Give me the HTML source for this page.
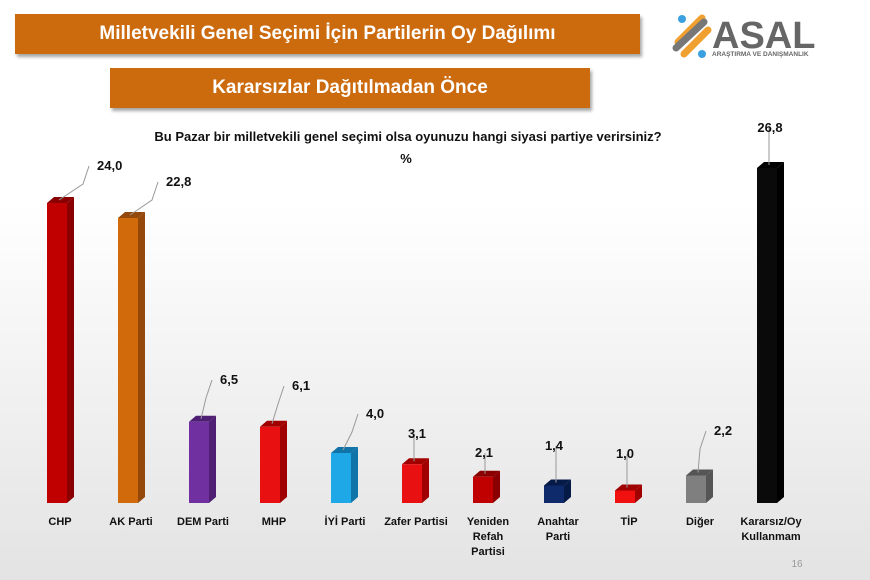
<!DOCTYPE html>
<html><head><meta charset="utf-8"><style>
body{margin:0;width:870px;height:580px;overflow:hidden;background:linear-gradient(#fff 0%,#fff 35%,#e3e3e3 100%);font-family:"Liberation Sans","DejaVu Sans",sans-serif;position:relative}
.box{position:absolute;background:#cc6a0e;color:#fff;font-weight:bold;text-align:center;box-shadow:2px 3px 3px rgba(0,0,0,.35)}
</style></head><body>
<div class="box" style="left:15px;top:14px;width:625px;height:40px;line-height:40px;font-size:19px">Milletvekili Genel Seçimi İçin Partilerin Oy Dağılımı</div>
<div class="box" style="left:110px;top:68px;width:480px;height:40px;line-height:40px;font-size:19px">Kararsızlar Dağıtılmadan Önce</div>
<svg width="870" height="580" style="position:absolute;left:0;top:0" font-family="Liberation Sans, DejaVu Sans, sans-serif">
<g transform="translate(672,14)">
<path d="M6,28 L30,4" stroke="#f0a030" stroke-width="7" stroke-linecap="round"/>
<path d="M4,34 L32,8" stroke="#777" stroke-width="7" stroke-linecap="round"/>
<path d="M12,40 L36,16" stroke="#f0a030" stroke-width="7" stroke-linecap="round"/>
<circle cx="10" cy="5" r="4" fill="#3aa0e0"/><circle cx="30" cy="40" r="4" fill="#3aa0e0"/>
<text x="40" y="34" font-size="38" font-weight="bold" fill="#666">ASAL</text>
<text x="40" y="42" font-size="6.5" font-weight="bold" fill="#666">ARAŞTIRMA VE DANIŞMANLIK</text>
</g>
<text x="408" y="141" font-size="13" font-weight="bold" text-anchor="middle" fill="#111">Bu Pazar bir milletvekili genel seçimi olsa oyunuzu hangi siyasi partiye verirsiniz?</text>
<text x="406" y="163" font-size="13" font-weight="bold" text-anchor="middle" fill="#111">%</text>
<g id="bars"></g>
<g font-size="11" font-weight="bold" fill="#111" text-anchor="middle">
<text x="60" y="525">CHP</text><text x="131" y="525">AK Parti</text><text x="203" y="525">DEM Parti</text><text x="274" y="525">MHP</text><text x="345" y="525">İYİ Parti</text><text x="416" y="525">Zafer Partisi</text>
<text x="488" y="525">Yeniden</text><text x="488" y="540">Refah</text><text x="488" y="555">Partisi</text>
<text x="558" y="525">Anahtar</text><text x="558" y="540">Parti</text><text x="629" y="525">TİP</text><text x="700" y="525">Diğer</text>
<text x="771" y="525">Kararsız/Oy</text><text x="771" y="540">Kullanmam</text>
</g>
<text x="797" y="567" font-size="10" fill="#999" text-anchor="middle">16</text>
<g id="lbl"></g>
</svg>
<script>
var d=[[47,24.0,"#c00000","#8a0000",97,170,"24,0"],[118,22.8,"#d06a0a","#94480a",166,186,"22,8"],[189,6.5,"#7030a0","#4e1f73",220,384,"6,5"],[260,6.1,"#e81010","#a00000",292,390,"6,1"],[331,4.0,"#1fa8e8","#1174a8",366,418,"4,0"],[402,3.1,"#e81010","#a00000",417,438,"3,1"],[473,2.1,"#c00000","#8a0000",484,457,"2,1"],[544,1.4,"#0e2a6a","#061a48",554,450,"1,4"],[615,1.0,"#f01010","#a00000",625,458,"1,0"],[686,2.2,"#7f7f7f","#555",714,435,"2,2"],[757,26.8,"#0a0a0a","#000",770,132,"26,8"]];
var b="",l="",B=503,W=20,D=7;
d.forEach(function(r){var x=r[0],h=r[1]*12.5,t=B-h;
b+='<polygon points="'+(x+W)+','+t+' '+(x+W+D)+','+(t-6)+' '+(x+W+D)+','+(B-6)+' '+(x+W)+','+B+'" fill="'+r[3]+'"/>';
b+='<polygon points="'+x+','+t+' '+(x+D)+','+(t-6)+' '+(x+W+D)+','+(t-6)+' '+(x+W)+','+t+'" fill="'+r[3]+'"/>';
b+='<rect x="'+x+'" y="'+t+'" width="'+W+'" height="'+h+'" fill="'+r[2]+'"/>';
var cx=x+12,lx=r[4],ly=r[5];
l+='<polyline points="'+cx+','+(t-3)+' '+(lx<cx+15?cx:lx-14)+','+(ly+14)+' '+(lx<cx+15?cx:lx-8)+','+(ly-4)+'" fill="none" stroke="#999" stroke-width="1"/>';
l+='<text x="'+lx+'" y="'+ly+'" font-size="13" font-weight="bold" text-anchor="'+(lx<cx+15?"middle":"start")+'" fill="#111">'+r[6]+'</text>';});
document.getElementById("bars").innerHTML=b;document.getElementById("lbl").innerHTML=l;
</script>
</body></html>
